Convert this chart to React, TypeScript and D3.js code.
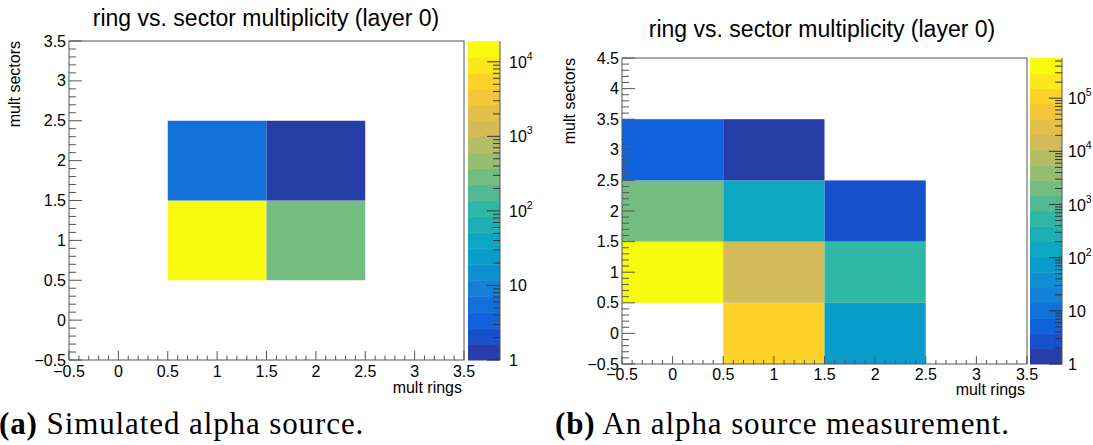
import React from 'react';
import * as d3 from 'd3';

// (a) simulated alpha source
const simRings = [1, 2, 1, 2];
const simSectors = [1, 1, 2, 2];
const simCounts = [19000, 300, 6, 1];
const simZMax = 19000;
const simXTicks = [-0.5, 0, 0.5, 1, 1.5, 2, 2.5, 3, 3.5];
const simYTicks = [-0.5, 0, 0.5, 1, 1.5, 2, 2.5, 3, 3.5];
const simZDecades = [1, 10, 100, 1000, 10000];

// (b) alpha source measurement
const measRings = [0, 0, 0, 1, 1, 1, 1, 2, 2, 2];
const measSectors = [1, 2, 3, 0, 1, 2, 3, 0, 1, 2];
const measCounts = [570000, 2000, 5, 100000, 15000, 150, 1, 75, 550, 3];
const measZMax = 570000;
const measXTicks = [-0.5, 0, 0.5, 1, 1.5, 2, 2.5, 3, 3.5];
const measYTicks = [-0.5, 0, 0.5, 1, 1.5, 2, 2.5, 3, 3.5, 4, 4.5];
const measZDecades = [1, 10, 100, 1000, 10000, 100000];

const title = 'ring vs. sector multiplicity (layer 0)';

// ROOT kBird palette
const birdStops = [0, 0.125, 0.25, 0.375, 0.5, 0.625, 0.75, 0.875, 1];
const birdR = [0.2082, 0.0592, 0.078, 0.0232, 0.1802, 0.5301, 0.8186, 0.9956, 0.9764];
const birdG = [0.1664, 0.3599, 0.5041, 0.6419, 0.7178, 0.7492, 0.7328, 0.7862, 0.9832];
const birdB = [0.5293, 0.8684, 0.8385, 0.7914, 0.6425, 0.4662, 0.3499, 0.1968, 0.0539];

const NCONT = 20;
const bird = d3.scaleLinear<string>()
  .domain(birdStops)
  .range(birdStops.map((_, i) => d3.rgb(birdR[i] * 255, birdG[i] * 255, birdB[i] * 255).toString()))
  .interpolate(d3.interpolateRgb);
const bandColor = (i: number) => bird(Math.floor((i + 0.99) * 255 / NCONT) / 254);

const FONT = '"Liberation Sans", Arial, Helvetica, sans-serif';
const AXIS = '#555';

function fmt(v: number) {
  return v < 0 ? '\u2212' + Math.abs(v) : String(v);
}

function Panel(p: any) {
  const x = d3.scaleLinear().domain([-0.5, 3.5]).range([p.fx0, p.fx1]);
  const y = d3.scaleLinear().domain([-0.5, p.yTop]).range([p.fy1, p.fy0]);
  const z = d3.scaleLog().domain([1, p.zMax]).range([p.fy1, p.fy0]);
  const lzmax = Math.log10(p.zMax);
  const band = (v: number) => Math.min(NCONT - 1, Math.floor(NCONT * Math.log10(v) / lzmax));

  const half = (v: number) => Math.abs(v * 2 - Math.round(v * 2)) < 1e-6;
  const xMinor = d3.range(-5, 36).map(i => i / 10).filter(v => !half(v));
  const yMinor = d3.range(-5, Math.round(p.yTop * 10) + 1).map(i => i / 10).filter(v => !half(v));
  const zMinor: number[] = [];
  p.decades.forEach((d: number) => {
    for (let m = 2; m <= 9; m++) if (d * m <= p.zMax) zMinor.push(d * m);
  });
  const bandH = (p.fy1 - p.fy0) / NCONT;

  return (
    <g fontFamily={FONT}>
      <text x={p.titleX} y={p.titleY} fontSize={23} textAnchor="middle" fill="#000">{title}</text>

      {p.counts.map((c: number, i: number) => (
        <rect key={'c' + i}
          x={x(p.rings[i] - 0.5)} y={y(p.sectors[i] + 0.5)}
          width={x(p.rings[i] + 0.5) - x(p.rings[i] - 0.5)}
          height={y(p.sectors[i] - 0.5) - y(p.sectors[i] + 0.5)}
          fill={bandColor(band(c))} />
      ))}

      <rect x={p.fx0} y={p.fy0} width={p.fx1 - p.fx0} height={p.fy1 - p.fy0} fill="none" stroke={AXIS} strokeWidth={1} />

      {/* x axis */}
      {p.xTicks.map((t: number) => (
        <g key={'xt' + t}>
          <line x1={x(t)} x2={x(t)} y1={p.fy1} y2={p.fy1 - p.xMajor} stroke={AXIS} />
          <text x={x(t)} y={p.fy1 + p.xLabDy} fontSize={16} textAnchor="middle">{fmt(t)}</text>
        </g>
      ))}
      {xMinor.map(t => (
        <line key={'xm' + t} x1={x(t)} x2={x(t)} y1={p.fy1} y2={p.fy1 - p.xMajor / 2} stroke={AXIS} />
      ))}
      <text x={p.fx1 - 2} y={p.xTitleY} fontSize={16} textAnchor="end">mult rings</text>

      {/* y axis */}
      {p.yTicks.map((t: number) => (
        <g key={'yt' + t}>
          <line x1={p.fx0} x2={p.fx0 + 13} y1={y(t)} y2={y(t)} stroke={AXIS} />
          <text x={p.fx0 - 3} y={y(t) + 5.5} fontSize={16} textAnchor="end">{fmt(t)}</text>
        </g>
      ))}
      {yMinor.map(t => (
        <line key={'ym' + t} x1={p.fx0} x2={p.fx0 + 7} y1={y(t)} y2={y(t)} stroke={AXIS} />
      ))}
      <text transform={`translate(${p.yTitleX},${p.fy0}) rotate(-90)`} fontSize={16} textAnchor="end">mult sectors</text>

      {/* colour bar */}
      {d3.range(NCONT).map(i => (
        <rect key={'b' + i} x={p.cx0} y={p.fy1 - (i + 1) * bandH} width={p.cx1 - p.cx0} height={bandH + 0.5} fill={bandColor(i)} />
      ))}
      <line x1={p.cx1} x2={p.cx1} y1={p.fy0} y2={p.fy1} stroke={AXIS} />
      {p.decades.map((d: number) => {
        const e = Math.round(Math.log10(d));
        return (
          <g key={'zd' + d}>
            <line x1={p.cx1} x2={p.cx1 - 13} y1={z(d)} y2={z(d)} stroke="#333" />
            <text x={p.cx1 + p.zLabDx} y={z(d) + 6} fontSize={16}>
              {e === 0 ? '1' : '10'}
              {e > 1 ? <tspan fontSize={10.5} dy={-8}>{e}</tspan> : null}
            </text>
          </g>
        );
      })}
      {zMinor.map(v => (
        <line key={'zm' + v} x1={p.cx1} x2={p.cx1 - 7} y1={z(v)} y2={z(v)} stroke="#333" />
      ))}
    </g>
  );
}

export default function App() {
  return (
    <svg width={1093} height={445} style={{ position: 'absolute', left: 0, top: 0, background: '#fff' }}>
      <rect width={1093} height={445} fill="#fff" />
      <Panel rings={simRings} sectors={simSectors} counts={simCounts} zMax={simZMax}
        xTicks={simXTicks} yTicks={simYTicks} decades={simZDecades} yTop={3.5}
        fx0={69} fx1={464} fy0={41} fy1={360} cx0={468} cx1={500} zLabDx={9}
        titleX={266} titleY={26} xMajor={9} xLabDy={17} xTitleY={393} yTitleX={20} />
      <Panel rings={measRings} sectors={measSectors} counts={measCounts} zMax={measZMax}
        xTicks={measXTicks} yTicks={measYTicks} decades={measZDecades} yTop={4.5}
        fx0={622} fx1={1027} fy0={58} fy1={364} cx0={1030} cx1={1062} zLabDx={6}
        titleX={822} titleY={37} xMajor={8} xLabDy={16} xTitleY={395} yTitleX={575} />

      <g fontFamily='"Liberation Serif", "Times New Roman", serif' fontSize={31} letterSpacing={0.9}>
        <text x={-1} y={434}><tspan fontWeight="bold">(a)</tspan> Simulated alpha source.</text>
        <text x={555} y={434}><tspan fontWeight="bold">(b)</tspan> An alpha source measurement.</text>
      </g>
    </svg>
  );
}
